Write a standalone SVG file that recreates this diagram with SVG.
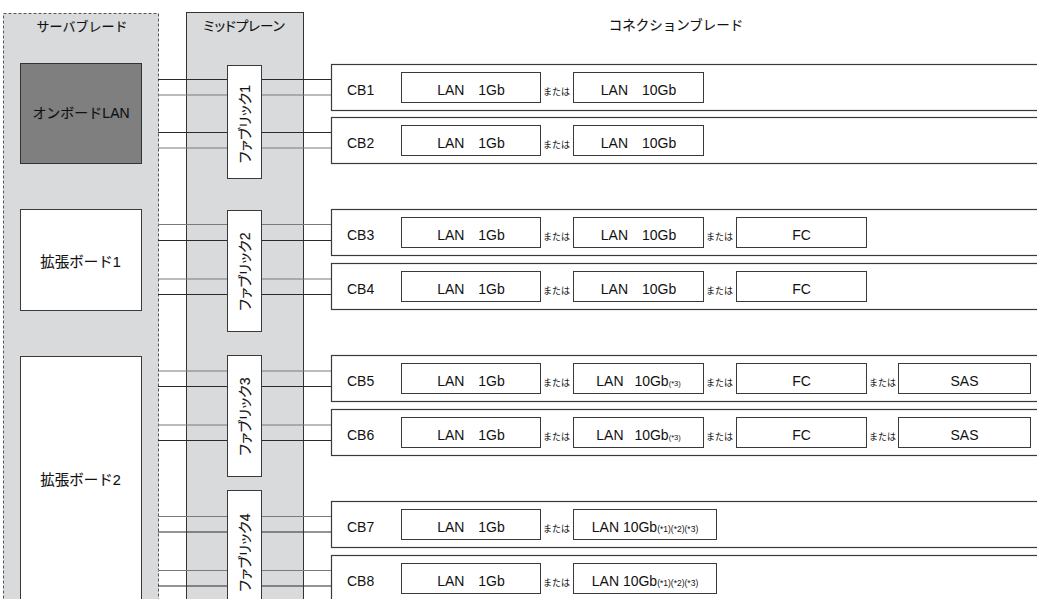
<svg xmlns="http://www.w3.org/2000/svg" width="1037" height="599" viewBox="0 0 1037 599">
<style>
text{font-family:"Liberation Sans","Noto Sans CJK JP",sans-serif;fill:#111}
.hdr{font-size:13px;text-anchor:middle;stroke:#111;stroke-width:0.12}
.palt{font-feature-settings:"palt";font-size:13.5px}
.big{font-size:14px;text-anchor:middle;stroke:#111;stroke-width:0.12}
.fab{font-size:14px;text-anchor:middle;dominant-baseline:central;font-feature-settings:"palt";stroke:#111;stroke-width:0.12}
.cb{font-size:14px}
.opt{font-size:14px;text-anchor:middle}
.mata{font-size:9px}
.sm{font-size:7.5px}
.sm2{font-size:8.5px}
.area{fill:#d9dadc}
.box{fill:#fff;stroke:#3a3a3a;stroke-width:1}
.cbbox{fill:#fff;stroke:#3a3a3a;stroke-width:1.2}
.lk{stroke:#2a2a2a;stroke-width:1}
.lg{stroke:#7a7a7a;stroke-width:1.2}
</style>
<rect width="1037" height="599" fill="#fff"/>
<g id="server-blade">
<rect class="area" x="3.5" y="13.5" width="155" height="620" stroke="#555" stroke-width="1" stroke-dasharray="3,2"/>
<text class="hdr" x="82" y="31">サーバブレード</text>
</g>
<g id="midplane">
<rect class="area" x="186.5" y="12.5" width="117" height="620" stroke="#333" stroke-width="1"/>
<text class="hdr palt" x="244" y="31">ミッドプレーン</text>
</g>
<g id="connection-blade-title">
<text class="hdr" x="676" y="30" style="font-size:13.5px">コネクションブレード</text>
</g>
<g id="connectors">
<path class="lk" d="M158 79.5H331M158 132.5H331"/>
<path class="lg" d="M158 95H331M158 148H331"/>
<path class="lg" d="M158 224.5H331M158 279H331M158 371H331M158 425H331M158 516.5H331M158 570.5H331"/>
<path class="lk" d="M158 240.5H331M158 294.5H331M158 386.5H331M158 440.5H331M158 532H331M158 586H331"/>
</g>
<g id="onboard-lan">
<rect x="20.5" y="63.5" width="121" height="100" fill="#7f7f7f" stroke="#333"/>
<text class="big" x="81" y="118">オンボードLAN</text>
</g>
<g id="exp-board-1">
<rect class="box" x="20.5" y="209.5" width="121" height="101"/>
<text class="big" x="80.5" y="267" style="font-size:14.5px">拡張ボード1</text>
</g>
<g id="exp-board-2">
<rect class="box" x="20.5" y="356.5" width="121" height="260"/>
<text class="big" x="80.5" y="485" style="font-size:14.5px">拡張ボード2</text>
</g>
<g id="fabric1">
<rect class="box" x="227.5" y="65.5" width="34" height="113"/>
<text class="fab" transform="translate(244.5,124) rotate(-90)">ファブリック1</text>
</g>
<g id="fabric2">
<rect class="box" x="227.5" y="210.5" width="34" height="121"/>
<text class="fab" transform="translate(244.5,271.5) rotate(-90)">ファブリック2</text>
</g>
<g id="fabric3">
<rect class="box" x="227.5" y="355.5" width="34" height="121"/>
<text class="fab" transform="translate(244.5,416.5) rotate(-90)">ファブリック3</text>
</g>
<g id="fabric4">
<rect class="box" x="227.5" y="490.5" width="34" height="130"/>
<text class="fab" transform="translate(244.5,552.5) rotate(-90)">ファブリック4</text>
</g>
<g id="cb1" transform="translate(0,64)">
<rect class="cbbox" x="331.5" y="0.5" width="720" height="46"/>
<text class="cb" x="347" y="30.5">CB1</text>
<rect class="box" x="401.5" y="8.5" width="139" height="30"/>
<text class="opt" x="471" y="30.5">LAN <tspan dx="10">1Gb</tspan></text>
<text class="mata" x="543" y="31">または</text>
<rect class="box" x="573.5" y="8.5" width="130" height="30"/>
<text class="opt" x="638.5" y="30.5">LAN <tspan dx="10">10Gb</tspan></text>
</g>
<g id="cb2" transform="translate(0,117)">
<rect class="cbbox" x="331.5" y="0.5" width="720" height="46"/>
<text class="cb" x="347" y="30.5">CB2</text>
<rect class="box" x="401.5" y="8.5" width="139" height="30"/>
<text class="opt" x="471" y="30.5">LAN <tspan dx="10">1Gb</tspan></text>
<text class="mata" x="543" y="31">または</text>
<rect class="box" x="573.5" y="8.5" width="130" height="30"/>
<text class="opt" x="638.5" y="30.5">LAN <tspan dx="10">10Gb</tspan></text>
</g>
<g id="cb3" transform="translate(0,209)">
<rect class="cbbox" x="331.5" y="0.5" width="720" height="46"/>
<text class="cb" x="347" y="30.5">CB3</text>
<rect class="box" x="401.5" y="8.5" width="139" height="30"/>
<text class="opt" x="471" y="30.5">LAN <tspan dx="10">1Gb</tspan></text>
<text class="mata" x="543" y="31">または</text>
<rect class="box" x="573.5" y="8.5" width="130" height="30"/>
<text class="opt" x="638.5" y="30.5">LAN <tspan dx="10">10Gb</tspan></text>
<text class="mata" x="706" y="31">または</text>
<rect class="box" x="736.5" y="8.5" width="130" height="30"/>
<text class="opt" x="801.5" y="30.5">FC</text>
</g>
<g id="cb4" transform="translate(0,263)">
<rect class="cbbox" x="331.5" y="0.5" width="720" height="46"/>
<text class="cb" x="347" y="30.5">CB4</text>
<rect class="box" x="401.5" y="8.5" width="139" height="30"/>
<text class="opt" x="471" y="30.5">LAN <tspan dx="10">1Gb</tspan></text>
<text class="mata" x="543" y="31">または</text>
<rect class="box" x="573.5" y="8.5" width="130" height="30"/>
<text class="opt" x="638.5" y="30.5">LAN <tspan dx="10">10Gb</tspan></text>
<text class="mata" x="706" y="31">または</text>
<rect class="box" x="736.5" y="8.5" width="130" height="30"/>
<text class="opt" x="801.5" y="30.5">FC</text>
</g>
<g id="cb5" transform="translate(0,355)">
<rect class="cbbox" x="331.5" y="0.5" width="720" height="46"/>
<text class="cb" x="347" y="30.5">CB5</text>
<rect class="box" x="401.5" y="8.5" width="139" height="30"/>
<text class="opt" x="471" y="30.5">LAN <tspan dx="10">1Gb</tspan></text>
<text class="mata" x="543" y="31">または</text>
<rect class="box" x="573.5" y="8.5" width="130" height="30"/>
<text class="opt" x="638.5" y="30.5">LAN <tspan dx="7">10Gb</tspan><tspan class="sm">(*3)</tspan></text>
<text class="mata" x="706" y="31">または</text>
<rect class="box" x="736.5" y="8.5" width="130" height="30"/>
<text class="opt" x="801.5" y="30.5">FC</text>
<text class="mata" x="869" y="31">または</text>
<rect class="box" x="898.5" y="8.5" width="132" height="30"/>
<text class="opt" x="964.5" y="30.5">SAS</text>
</g>
<g id="cb6" transform="translate(0,409)">
<rect class="cbbox" x="331.5" y="0.5" width="720" height="46"/>
<text class="cb" x="347" y="30.5">CB6</text>
<rect class="box" x="401.5" y="8.5" width="139" height="30"/>
<text class="opt" x="471" y="30.5">LAN <tspan dx="10">1Gb</tspan></text>
<text class="mata" x="543" y="31">または</text>
<rect class="box" x="573.5" y="8.5" width="130" height="30"/>
<text class="opt" x="638.5" y="30.5">LAN <tspan dx="7">10Gb</tspan><tspan class="sm">(*3)</tspan></text>
<text class="mata" x="706" y="31">または</text>
<rect class="box" x="736.5" y="8.5" width="130" height="30"/>
<text class="opt" x="801.5" y="30.5">FC</text>
<text class="mata" x="869" y="31">または</text>
<rect class="box" x="898.5" y="8.5" width="132" height="30"/>
<text class="opt" x="964.5" y="30.5">SAS</text>
</g>
<g id="cb7" transform="translate(0,501)">
<rect class="cbbox" x="331.5" y="0.5" width="720" height="46"/>
<text class="cb" x="347" y="30.5">CB7</text>
<rect class="box" x="401.5" y="8.5" width="139" height="30"/>
<text class="opt" x="471" y="30.5">LAN <tspan dx="10">1Gb</tspan></text>
<text class="mata" x="543" y="31">または</text>
<rect class="box" x="573.5" y="8.5" width="143" height="30"/>
<text class="opt" x="645" y="30.5">LAN 10Gb<tspan class="sm2">(*1)(*2)(*3)</tspan></text>
</g>
<g id="cb8" transform="translate(0,555)">
<rect class="cbbox" x="331.5" y="0.5" width="720" height="46"/>
<text class="cb" x="347" y="30.5">CB8</text>
<rect class="box" x="401.5" y="8.5" width="139" height="30"/>
<text class="opt" x="471" y="30.5">LAN <tspan dx="10">1Gb</tspan></text>
<text class="mata" x="543" y="31">または</text>
<rect class="box" x="573.5" y="8.5" width="143" height="30"/>
<text class="opt" x="645" y="30.5">LAN 10Gb<tspan class="sm2">(*1)(*2)(*3)</tspan></text>
</g>
</svg>
